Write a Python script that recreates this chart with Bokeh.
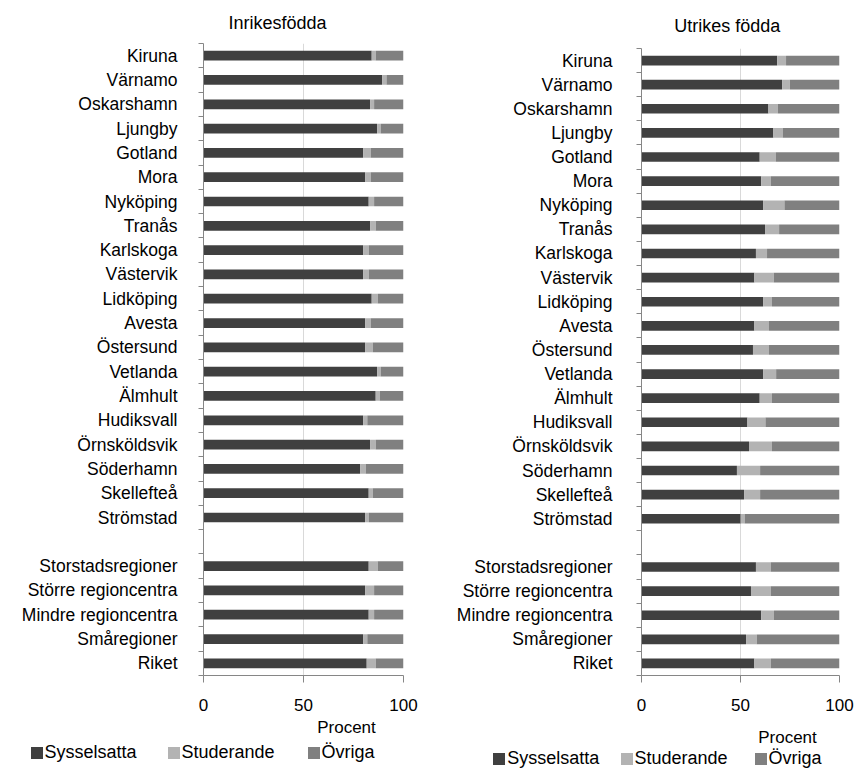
from bokeh.plotting import figure
from bokeh.models import (ColumnDataSource, FixedTicker, Range1d, Legend, LegendItem, Label,
                          Plot)
from bokeh.layouts import row, column
from bokeh.embed import file_html
from bokeh.resources import INLINE

# ---------------- data ----------------
regions = ["Kiruna", "Värnamo", "Oskarshamn", "Ljungby", "Gotland", "Mora", "Nyköping",
           "Tranås", "Karlskoga", "Västervik", "Lidköping", "Avesta", "Östersund",
           "Vetlanda", "Älmhult", "Hudiksvall", "Örnsköldsvik", "Söderhamn",
           "Skellefteå", "Strömstad"]
groups = ["Storstadsregioner", "Större regioncentra", "Mindre regioncentra",
          "Småregioner", "Riket"]
series_names = ["Sysselsatta", "Studerande", "Övriga"]
x_ticks = [0, 50, 100]
axis_title = "Procent"

inr_syss = [84.1, 89.3, 83.3, 86.8, 79.8, 80.8, 82.6, 83.3, 79.8, 79.8, 84.1, 80.8, 80.8,
            86.8, 86.1, 79.8, 83.3, 78.3, 82.6, 80.8,
            82.6, 80.8, 82.6, 79.8, 81.6]
inr_stud = [2.0, 2.2, 2.0, 1.8, 3.8, 2.8, 2.7, 2.8, 2.8, 2.8, 3.0, 2.8, 3.8,
            1.8, 2.0, 2.1, 2.8, 2.8, 2.0, 1.8,
            4.5, 4.5, 2.7, 2.1, 4.5]
inr_ovr = [13.9, 8.5, 14.7, 11.4, 16.4, 16.4, 14.7, 13.9, 17.4, 17.4, 12.9, 16.4, 15.4,
           11.4, 11.9, 18.1, 13.9, 18.9, 15.4, 17.4,
           12.9, 14.7, 14.7, 18.1, 13.9]

utr_syss = [68.5, 71.0, 64.1, 66.6, 59.7, 60.5, 61.4, 62.4, 57.8, 57.0, 61.4, 57.0, 56.3,
            61.4, 59.7, 53.5, 54.3, 48.2, 51.8, 50.1,
            57.8, 55.3, 60.5, 52.8, 57.0]
utr_stud = [4.5, 3.9, 4.7, 4.7, 8.1, 4.8, 10.8, 7.1, 5.6, 9.8, 4.5, 7.4, 8.1,
            6.6, 6.2, 9.1, 11.6, 11.7, 8.1, 2.0,
            7.5, 10.0, 6.4, 5.4, 8.3]
utr_ovr = [27.0, 25.1, 31.2, 28.7, 32.2, 34.7, 27.8, 30.5, 36.6, 33.2, 34.1, 35.6, 35.6,
           32.0, 34.1, 37.4, 34.1, 40.1, 40.1, 47.9,
           34.7, 34.7, 33.1, 41.8, 34.7]

# ---------------- styling ----------------
FONT = "Liberation Sans"
COLORS = ["#404040", "#b3b3b3", "#808080"]
AXIS_COLOR = "#868686"
GRID_COLOR = "#d9d9d9"
HAS_FRAME_ALIGN = "frame_align" in Plot.properties()

categories = regions + groups
positions = list(range(len(regions))) + [len(regions) + 1 + i for i in range(len(groups))]
n_slots = positions[-1] + 1
boundaries = [i - 0.5 for i in range(n_slots + 1)]


def no_align(f):
    if HAS_FRAME_ALIGN:
        f.frame_align = False
    return f


def blank_fig(width, height):
    f = figure(width=width, height=height, output_backend="svg", toolbar_location=None,
               x_axis_type=None, y_axis_type=None,
               x_range=Range1d(0, width), y_range=Range1d(height, 0),
               min_border=0, min_border_left=0, min_border_right=0,
               min_border_top=0, min_border_bottom=0)
    f.outline_line_color = None
    f.grid.visible = False
    f.background_fill_color = "white"
    f.border_fill_color = "white"
    return no_align(f)


def main_fig(syss, stud, ovr, width, height, b_left, b_right, standoff):
    src = ColumnDataSource(dict(y=positions, cat=categories,
                                Sysselsatta=syss, Studerande=stud, Övriga=ovr))
    p = figure(width=width, height=height, output_backend="svg", toolbar_location=None,
               x_range=Range1d(0, 100), y_range=Range1d(n_slots - 0.5, -0.5),
               min_border_left=b_left, min_border_right=b_right,
               min_border_top=0, min_border_bottom=42)
    p.outline_line_color = None
    p.background_fill_color = "white"
    p.border_fill_color = "white"

    p.hbar_stack(series_names, y="y", height=0.4, color=COLORS, source=src,
                 line_color=None)

    xa = p.xaxis[0]
    xa.ticker = FixedTicker(ticks=x_ticks)
    xa.axis_line_color = AXIS_COLOR
    xa.major_tick_line_color = AXIS_COLOR
    xa.major_tick_out = 7
    xa.major_tick_in = 0
    xa.minor_tick_line_color = None
    xa.major_label_text_font = FONT
    xa.major_label_text_font_size = "17px"
    xa.major_label_text_color = "black"
    xa.major_label_standoff = 16

    ya = p.yaxis[0]
    ya.ticker = FixedTicker(ticks=positions, minor_ticks=boundaries)
    ya.major_label_overrides = {pos: name for pos, name in zip(positions, categories)}
    ya.axis_line_color = AXIS_COLOR
    ya.major_tick_line_color = None
    ya.major_tick_out = 0
    ya.major_tick_in = 0
    ya.minor_tick_line_color = AXIS_COLOR
    ya.minor_tick_out = 5
    ya.minor_tick_in = 0
    ya.major_label_text_font = FONT
    ya.major_label_text_font_size = "17.5px"
    ya.major_label_text_color = "black"
    ya.major_label_standoff = standoff

    p.xgrid.ticker = FixedTicker(ticks=x_ticks)
    p.xgrid.grid_line_color = GRID_COLOR
    p.ygrid.grid_line_color = None
    return no_align(p)


def header_fig(title, width, height, cx, cy):
    h = blank_fig(width, height)
    h.add_layout(Label(x=cx, y=cy, text=title, text_align="center", text_baseline="middle",
                       text_font=FONT, text_font_size="18px", text_color="black"))
    return h


def footer_fig(width, height, procent_xy, legend_xs, legend_y, series):
    f = blank_fig(width, height)
    f.add_layout(Label(x=procent_xy[0], y=procent_xy[1], text=axis_title,
                       text_align="center", text_baseline="middle",
                       text_font=FONT, text_font_size="17px", text_color="black"))
    for name, color, vals, lx in zip(series_names, COLORS, series, legend_xs):
        # hidden copy of the series, used only as the legend's glyph source
        r = f.hbar(y=positions, right=vals, height=0.4, color=color, line_color=None,
                   visible=False)
        lg = Legend(items=[LegendItem(label=name, renderers=[r])],
                    location=(lx, legend_y), orientation="horizontal",
                    padding=0, margin=0, spacing=0,
                    glyph_width=15, glyph_height=15, label_standoff=1,
                    label_height=15, inactive_fill_alpha=0,
                    label_text_font=FONT, label_text_font_size="18px",
                    label_text_color="black",
                    border_line_color=None, background_fill_alpha=0)
        f.add_layout(lg, "center")
    return f


TOTAL_H = 769
FOOT_TOP = 717

# left column (x 0..440)
l_head = header_fig("Inrikesfödda", 440, 43, 277, 22.7)
l_main = main_fig(inr_syss, inr_stud, inr_ovr, 440, FOOT_TOP - 43, 203, 37, 21)
l_foot = footer_fig(440, TOTAL_H - FOOT_TOP, (346, 10), [28.5, 165.5, 305.5], 6,
                    [inr_syss, inr_stud, inr_ovr])

# right column (x 440..855)
r_head = header_fig("Utrikes födda", 415, 48, 286.7, 25)
r_main = main_fig(utr_syss, utr_stud, utr_ovr, 415, FOOT_TOP - 48, 201, 16, 24)
r_foot = footer_fig(415, TOTAL_H - FOOT_TOP, (347, 19.7), [51.2, 178.5, 312.5], 0,
                    [utr_syss, utr_stud, utr_ovr])

layout = row(column(l_head, l_main, l_foot), column(r_head, r_main, r_foot))
open("out.html", "w").write(file_html(layout, INLINE))
